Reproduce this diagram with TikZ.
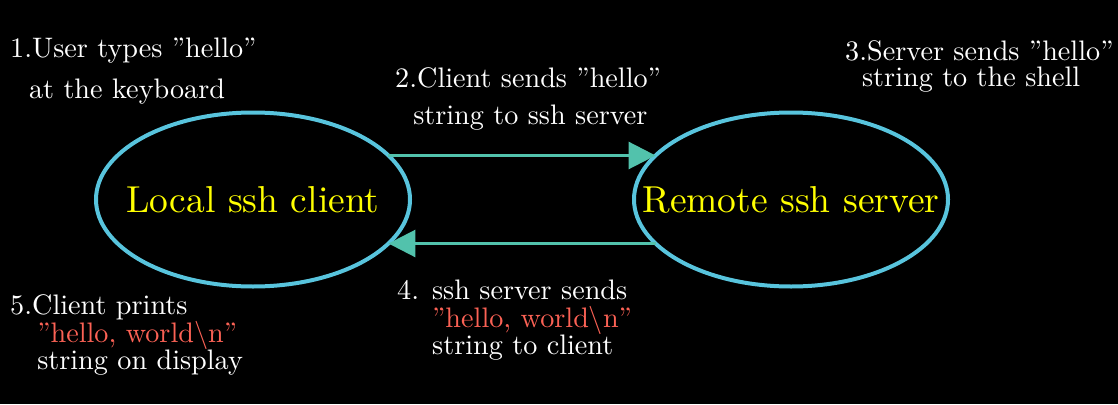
\documentclass[tikz,border=0pt]{standalone}
\usetikzlibrary{arrows.meta,shapes.geometric}
\definecolor{ebl}{HTML}{58C4DD}
\definecolor{arrc}{HTML}{52C2AC}
\definecolor{ylw}{HTML}{FFFF00}
\definecolor{rd}{HTML}{FC6255}
\newcommand\wlbl[3]{\scalebox{2.82}{\fontsize{10}{#1}\selectfont\begin{tabular}[t]{@{}#2@{}}#3\end{tabular}}}
\begin{document}
\begin{tikzpicture}[x=1pt,y=-1pt,
  bubble/.style={draw=ebl, line width=4pt, ellipse, minimum width=314pt, minimum height=174pt, inner sep=0pt, outer sep=0pt},
  lab/.style={text=ylw, inner sep=0pt},
  flow/.style={draw=arrc, line width=2.8pt, -{Triangle[length=27pt,width=27pt]}},
  note/.style={text=white, inner sep=0pt, anchor=base west}]
\fill[black] (0,0) rectangle (1118,404);
\node[bubble, label={[lab]center:\scalebox{3.75}{Local ssh client}}] (l) at (253,199.5) {};
\node[bubble, label={[lab]center:\scalebox{3.75}{Remote ssh server}}] (r) at (791,199.5) {};
\draw[flow] (l.18) -- (r.162);
\draw[flow] (r.198) -- (l.-18);
\node[note] (n1) at (10,58) {\wlbl{14.2}{l}{1.User types ''hello''\\\hspace*{6.7pt}at the keyboard}};
\node[note] (n2) at (395,87) {\wlbl{13.3}{l}{2.Client sends ''hello''\\\hspace*{6.4pt}string to ssh server}};
\node[note] (n3) at (845,60) {\wlbl{8.1}{l}{3.Server sends ''hello''\\\hspace*{6.0pt}string to the shell}};
\node[note] (n4) at (397,299) {\wlbl{8.8}{l}{4.\hspace{4.6pt}ssh server sends\\\hspace*{12.4pt}\textcolor{rd}{''hello, world$\backslash$n''}\\\hspace*{12.4pt}string to client}};
\node[note] (n5) at (10,314) {\wlbl{8.8}{l}{5.Client prints\\\hspace*{9.6pt}\textcolor{rd}{''hello, world$\backslash$n''}\\\hspace*{9.6pt}string on display}};
\end{tikzpicture}
\end{document}
